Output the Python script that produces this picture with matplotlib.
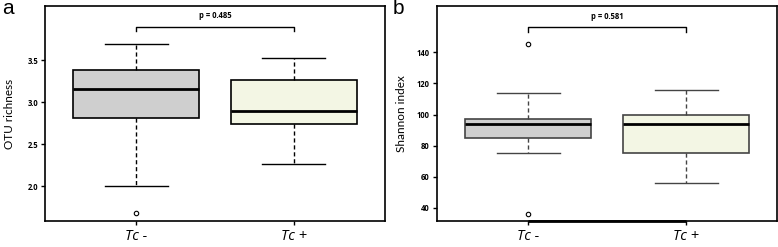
import matplotlib
matplotlib.use("Agg")
import matplotlib.pyplot as plt

groups = ["Tc -", "Tc +"]
# panel a: OTU richness
a_whislo = [2.00, 2.26]
a_q1 = [2.81, 2.74]
a_med = [3.16, 2.90]
a_q3 = [3.38, 3.26]
a_whishi = [3.69, 3.53]
a_fliers = [[1.68], []]
a_ticks = [2.0, 2.5, 3.0, 3.5]
a_p = "p = 0.485"
# panel b: Shannon index
b_whislo = [75.5, 56.0]
b_q1 = [85.2, 75.1]
b_med = [93.8, 93.8]
b_q3 = [97.4, 99.7]
b_whishi = [113.8, 116.1]
b_fliers = [[145.1, 35.9], []]
b_ticks = [40, 60, 80, 100, 120, 140]
b_p = "p = 0.581"

fills = ["#cfcfcf", "#f3f6e4"]

W, H = 778, 247
fig = plt.figure(figsize=(W / 100, H / 100), dpi=100)

def make_axes(x0, x1, y0, y1):
    return fig.add_axes([x0 / W, 1 - y1 / H, (x1 - x0) / W, (y1 - y0) / H])

def panel(ax, lo, q1, med, q3, hi, fl, ticks, ylim, ylabel, ptxt, pys, ec, lab, labx, ylabx):
    stats = []
    for i in range(2):
        stats.append(dict(whislo=lo[i], q1=q1[i], med=med[i], q3=q3[i], whishi=hi[i], fliers=fl[i]))
    bp = ax.bxp(stats, positions=[1, 2], widths=0.8, patch_artist=True,
                boxprops=dict(edgecolor=ec, linewidth=1.2),
                medianprops=dict(color="black", linewidth=2.0),
                whiskerprops=dict(color=ec, linestyle=(0, (3, 2)), linewidth=1.0),
                capprops=dict(color=ec, linewidth=1.0), capwidths=0.4,
                flierprops=dict(marker="o", markersize=3.2, markerfacecolor="none",
                                markeredgecolor="black", markeredgewidth=0.8))
    for patch, c in zip(bp["boxes"], fills):
        patch.set_facecolor(c)
    ax.set_xlim(0.421, 2.575)
    ax.set_ylim(*ylim)
    ax.set_yticks(ticks)
    ax.set_yticklabels([f"{t:.1f}" if isinstance(t, float) else str(t) for t in ticks],
                       fontsize=5.5, fontweight="bold", family="Open Sans")
    ax.set_xticks([1, 2])
    ax.set_xticklabels(groups, fontsize=10.5, style="italic", family="Open Sans")
    ax.tick_params(axis="x", length=3, width=1, pad=2.5)
    ax.tick_params(axis="y", length=3, width=1, pad=2)
    for s in ax.spines.values():
        s.set_linewidth(1.2)
    ax.set_ylabel(ylabel, fontsize=8.5, family="Lato")
    ax.yaxis.set_label_coords(ylabx, 0.5)
    ty, by, by2 = pys
    ax.plot([1, 1, 2, 2], [by2, by, by, by2], color="black", linewidth=1.0)
    ax.text(1.5, ty, ptxt, ha="center", va="center", fontsize=5.5, fontweight="bold", family="Open Sans")
    fig.text(labx / W, 1 - 8 / H, lab, fontsize=15, ha="left", va="center", family="Liberation Sans")

ax1 = make_axes(45, 384.5, 6, 221)
panel(ax1, a_whislo, a_q1, a_med, a_q3, a_whishi, a_fliers, a_ticks, (1.587, 4.146),
      "OTU richness", a_p, (4.027, 3.90, 3.852), "black", "a", 2, -0.088)

ax2 = make_axes(436.7, 777, 6, 221)
panel(ax2, b_whislo, b_q1, b_med, b_q3, b_whishi, b_fliers, b_ticks, (31.6, 169.8),
      "Shannon index", b_p, (162.9, 156.1, 153.2), "#444444", "b", 393, -0.088)
ax2.plot([1, 2], [31.6, 31.6], color="black", linewidth=2.0, clip_on=False, solid_capstyle="butt")

fig.savefig("out.png", dpi=100)
